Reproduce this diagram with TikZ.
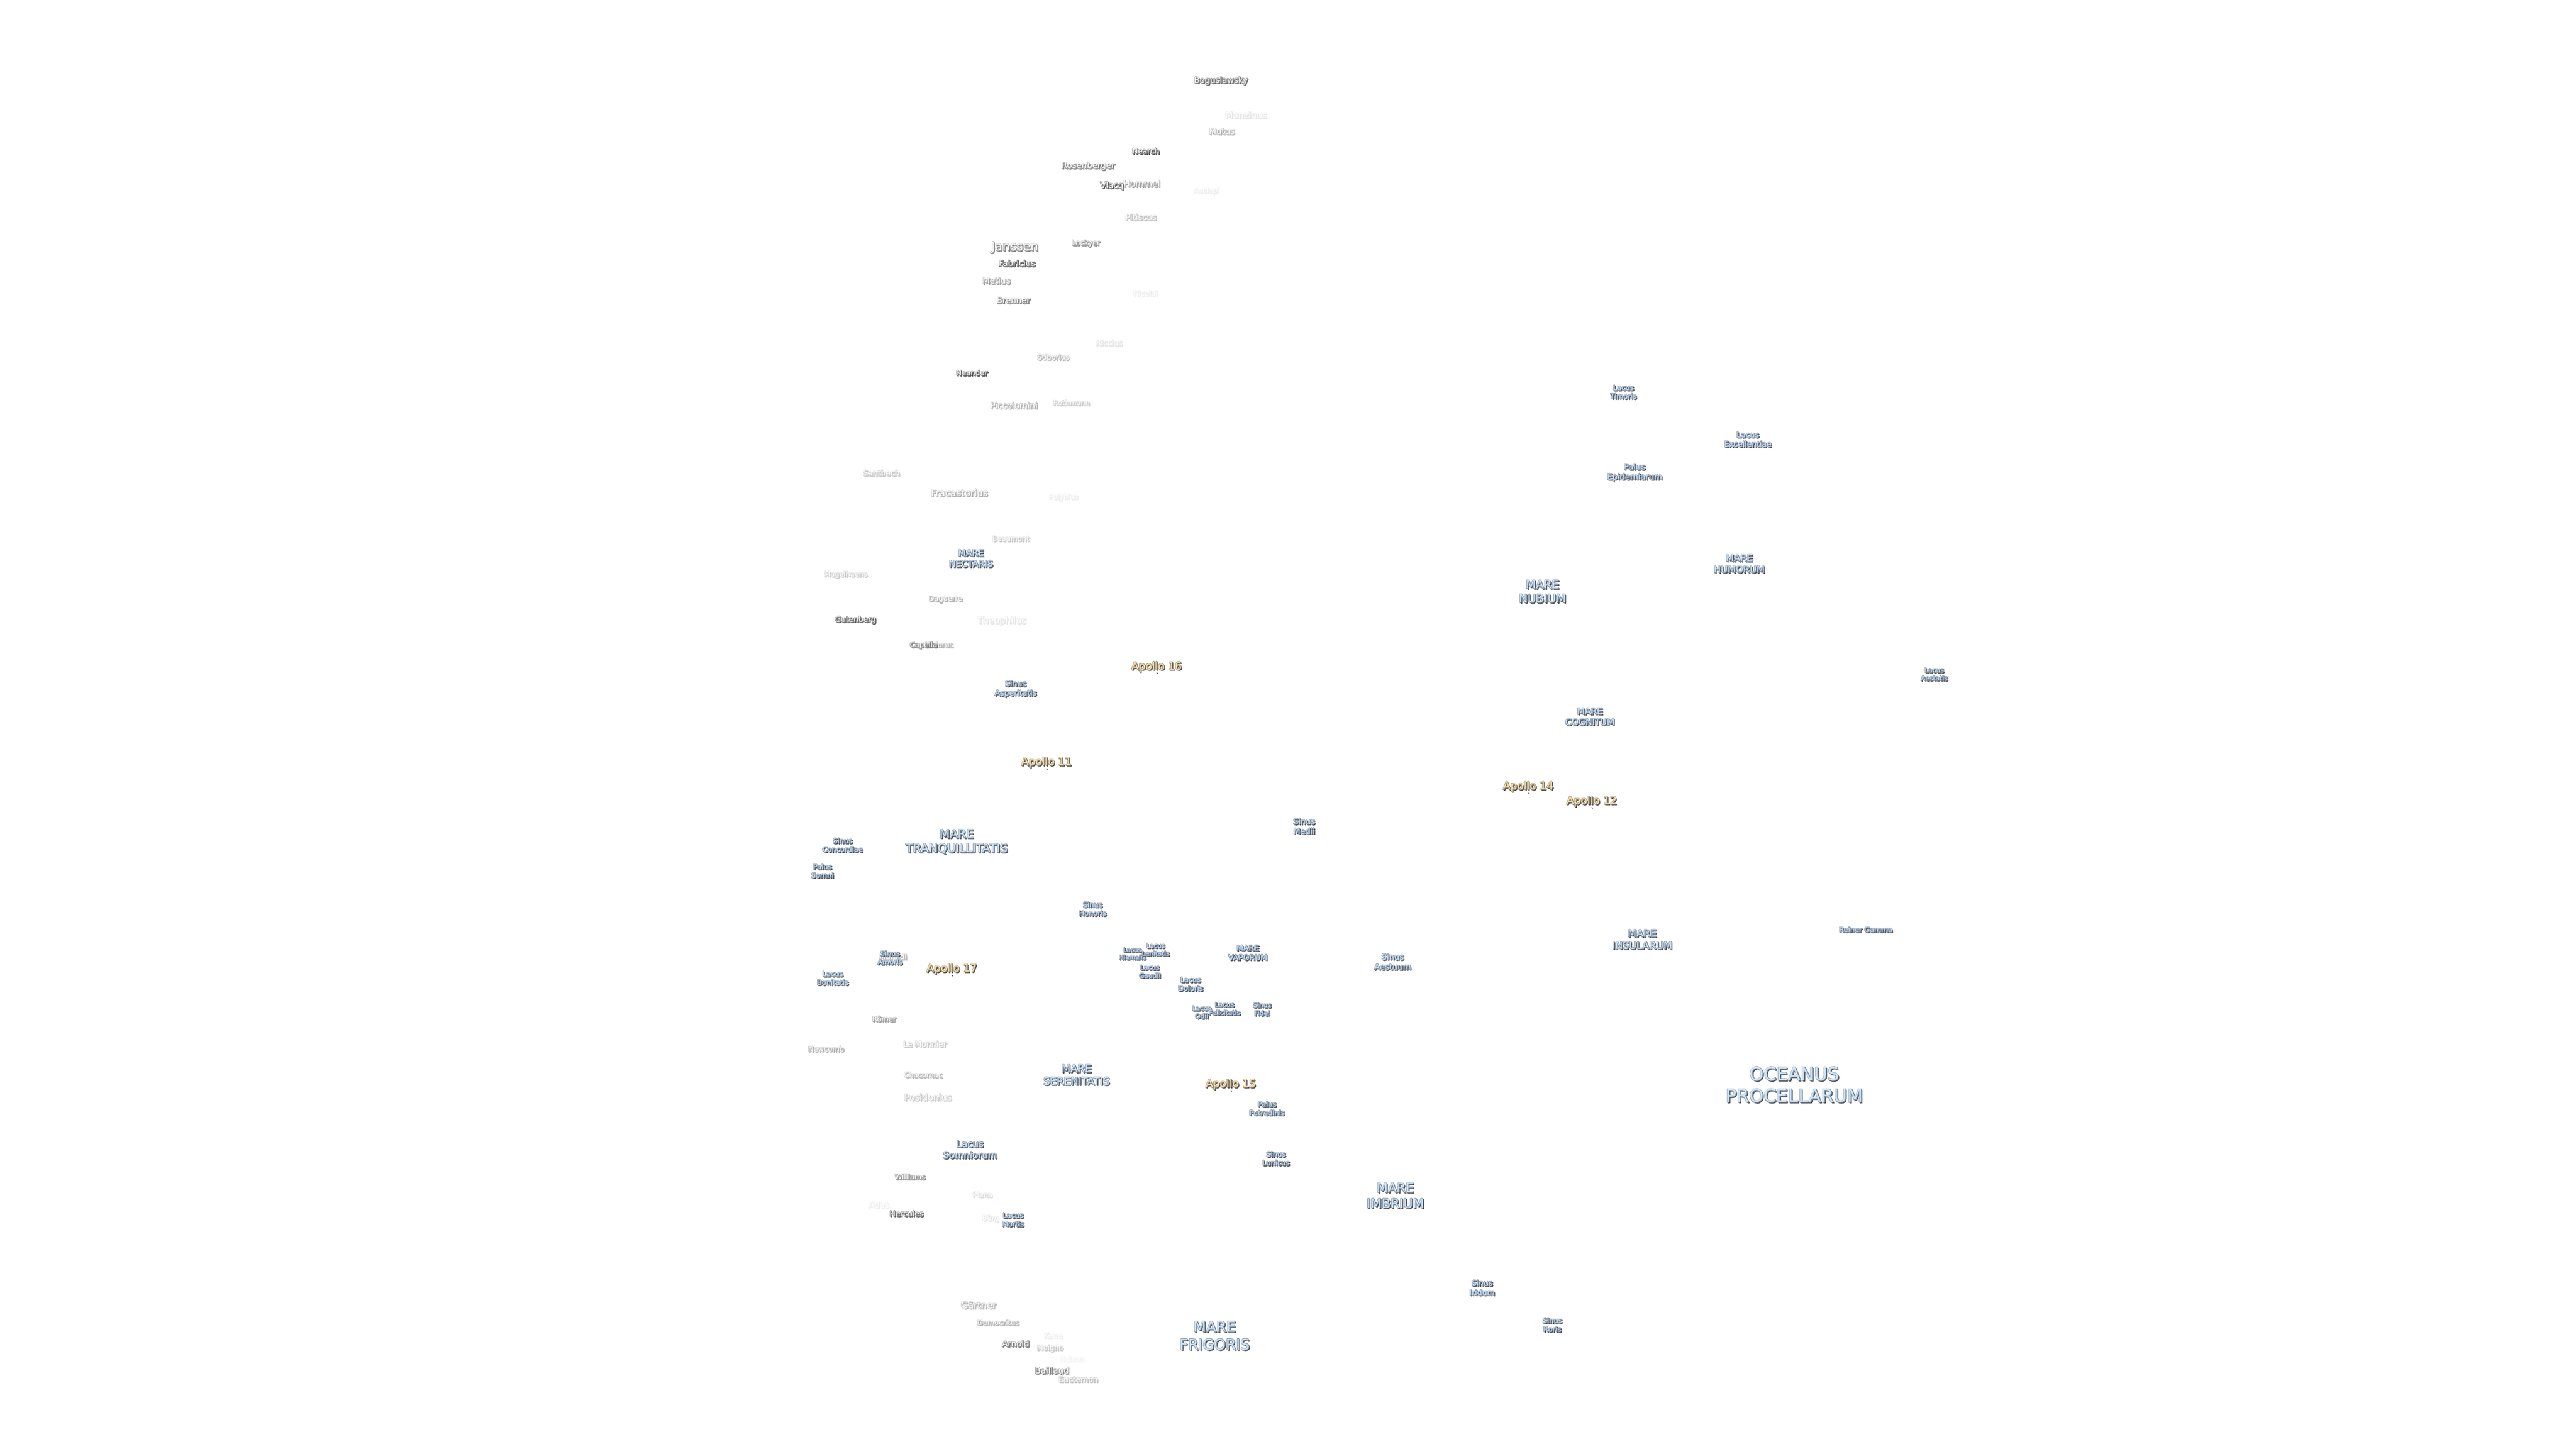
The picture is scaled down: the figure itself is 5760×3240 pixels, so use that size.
\documentclass[tikz,border=0pt]{standalone}
\usepackage{fontspec}
\setmainfont{DejaVu Sans}
\definecolor{shadowdark}{HTML}{45484D}
\definecolor{craterfill}{HTML}{FFFFFF}
\definecolor{marefill}{HTML}{CBE4FC}
\definecolor{apollofill}{HTML}{FFE0A8}
\tikzset{
  lbl/.style={inner sep=0pt,outer sep=0pt,align=center,text depth=0pt},
  apdot/.style={circle,inner sep=0pt,minimum size=3.5pt}
}
\newcommand{\pxf}[1]{\fontsize{#1}{\the\dimexpr #1pt*12/10\relax}\selectfont}
\newcommand{\stroked}[2]{\special{pdf:code 2 Tr #1 w 1 j #2 RG}}
\newcommand{\unstroked}{\special{pdf:code 0 Tr}}
% name, x, y, size, opacity, fill colour, outline rgb, text
\newcommand{\moonlab}[8]{%
  \begin{scope}[transparency group,opacity=#5]
    \node[lbl,font=\pxf{#4},text=shadowdark] (#1-s) at (#2+2,#3+2) {\stroked{1}{0.27 0.28 0.30}#8\unstroked};
    \node[lbl,font=\pxf{#4},text=#6] (#1-h) at (#2,#3) {\stroked{2.4}{#7}#8\unstroked};
    \node[lbl,font=\pxf{#4},text=#6] (#1) at (#2,#3) {#8};
  \end{scope}}
\newcommand{\crater}[6]{\moonlab{#1}{#2}{#3-2.5}{#4}{#5}{craterfill}{0.48 0.48 0.48}{#6}}
\newcommand{\mare}[5]{\moonlab{#1}{#2}{#3-1.5}{#4}{1}{marefill}{0.52 0.57 0.63}{#5}}
\newcommand{\apollo}[4]{%
  \moonlab{#1}{#2}{#3-1.5}{24}{1}{apollofill}{0.60 0.56 0.48}{#4}%
  \node[apdot,fill=shadowdark] (#1-ds) at (#2+1.5,#3+16) {};
  \node[apdot,fill=apollofill] (#1-d) at (#2,#3+14.5) {};}
\begin{document}
\begin{tikzpicture}[x=1pt,y=-1pt]
\useasboundingbox (0,0) rectangle (5760,3240);
\fill[white] (0,0) rectangle (5760,3240);
% far side craters
\crater{boguslawsky}{2730}{181}{18.6}{.8}{Boguslawsky}
\crater{manzinus}{2786}{259}{19.8}{.15}{Manzinus}
\crater{mutus}{2732}{296}{18.7}{.45}{Mutus}
\crater{nearch}{2562}{340}{17}{.95}{Nearch}
\crater{rosenberger}{2433}{372}{18.8}{.75}{Rosenberger}
\crater{hommel}{2553}{413}{19.5}{.55}{Hommel}
\crater{vlacq}{2486}{416}{18.9}{.9}{Vlacq}
\crater{asclepi}{2698}{428}{15.7}{.1}{Asclepi}
\crater{pitiscus}{2551}{488}{18.5}{.35}{Pitiscus}
\crater{lockyer}{2428}{545}{16.3}{.65}{Lockyer}
\crater{janssen}{2269}{553}{27.4}{.7}{Janssen}
\crater{fabricius}{2274}{591}{18.5}{.95}{Fabricius}
\crater{metius}{2228}{630}{18.8}{.55}{Metius}
\crater{nicolai}{2561}{658}{16}{.1}{Nicolai}
\crater{brenner}{2266}{674}{18.7}{.7}{Brenner}
\crater{riccius}{2480}{769}{17}{.15}{Riccius}
\crater{stiborius}{2355}{801}{16.2}{.4}{Stiborius}
\crater{neander}{2173}{836}{16.4}{.95}{Neander}
\crater{rothmann}{2396}{903}{15.8}{.3}{Rothmann}
\crater{piccolomini}{2267}{909}{18.8}{.45}{Piccolomini}
\crater{santbech}{1971}{1060}{17.4}{.3}{Santbech}
\crater{fracastorius}{2145}{1104}{21}{.45}{Fracastorius}
\crater{polybius}{2378}{1113}{15.7}{.1}{Polybius}
\crater{beaumont}{2260}{1207}{16}{.3}{Beaumont}
\crater{magelhaens}{1891}{1286}{16}{.3}{Magelhaens}
\crater{daguerre}{2114}{1341}{16}{.45}{Daguerre}
\crater{gutenberg}{1913}{1387}{17.2}{.9}{Gutenberg}
\crater{theophilus}{2240}{1389}{20}{.15}{Theophilus}
\crater{isidorus}{2100}{1444}{16}{.45}{Isidorus}
\crater{capella}{2065}{1444}{16.4}{.7}{Capella}
\crater{maraldi}{1997}{2142}{16.5}{.4}{Maraldi}
\crater{roemer}{1977}{2281}{16.3}{.55}{Römer}
\crater{lemonnier}{2068}{2337}{17.5}{.3}{Le Monnier}
\crater{newcomb}{1847}{2348}{16.2}{.45}{Newcomb}
\crater{chacornac}{2064}{2406}{16.2}{.4}{Chacornac}
\crater{posidonius}{2075}{2456}{20}{.3}{Posidonius}
\crater{williams}{2035}{2634}{16.2}{.65}{Williams}
\crater{plana}{2197}{2674}{16}{.2}{Plana}
\crater{atlas}{1965}{2696}{19}{.1}{Atlas}
\crater{hercules}{2027}{2716}{17.4}{.85}{Hercules}
\crater{buerg}{2215}{2726}{16}{.15}{Bürg}
\crater{gaertner}{2188}{2921}{20.5}{.4}{Gärtner}
\crater{democritus}{2232}{2960}{16.2}{.45}{Democritus}
\crater{kane}{2355}{2989}{16.3}{.1}{Kane}
\crater{arnold}{2271}{3007}{18.8}{.75}{Arnold}
\crater{moigno}{2348}{3016}{16.2}{.3}{Moigno}
\crater{nelson}{2396}{3041}{15.6}{.07}{Nelson}
\crater{baillaud}{2352}{3067}{19}{.75}{Baillaud}
\crater{euctemon}{2411}{3087}{17.4}{.35}{Euctemon}
% seas, lakes, bays
\mare{nectaris}{2171}{1250}{20}{MARE\\NECTARIS}
\mare{asperitatis}{2271}{1540}{17.5}{Sinus\\Asperitatis}
\mare{tranquillitatis}{2139}{1882}{26.5}{MARE\\TRANQUILLITATIS}
\mare{concordiae}{1884}{1891}{16}{Sinus\\Concordiae}
\mare{somni}{1839}{1949}{16}{Palus\\Somni}
\mare{honoris}{2443}{2034}{16}{Sinus\\Honoris}
\mare{amoris}{1990}{2143}{16}{Sinus\\Amoris}
\mare{bonitatis}{1862}{2189}{16}{Lacus\\Bonitatis}
\mare{hiemalis}{2532}{2134}{14}{Lacus\\Hiemalis}
\mare{lenitatis}{2584}{2125}{14.5}{Lacus\\Lenitatis}
\mare{gaudii}{2571}{2174}{15}{Lacus\\Gaudii}
\mare{doloris}{2662}{2202}{16}{Lacus\\Doloris}
\mare{vaporum}{2790}{2132}{17.5}{MARE\\VAPORUM}
\mare{aestuum}{3114}{2152}{18.5}{Sinus\\Aestuum}
\mare{odii}{2687}{2265}{15}{Lacus\\Odii}
\mare{felicitatis}{2738}{2257}{15}{Lacus\\Felicitatis}
\mare{fidei}{2822}{2258}{15}{Sinus\\Fidei}
\mare{serenitatis}{2407}{2405}{23.5}{MARE\\SERENITATIS}
\mare{putredinis}{2833}{2480}{16}{Palus\\Putredinis}
\mare{somniorum}{2169}{2572}{21}{Lacus\\Somniorum}
\mare{mortis}{2265}{2729}{16}{Lacus\\Mortis}
\mare{lunicus}{2853}{2592}{16}{Sinus\\Lunicus}
\mare{imbrium}{3120}{2675}{29}{MARE\\IMBRIUM}
\mare{iridum}{3314}{2881}{17.5}{Sinus\\Iridum}
\mare{roris}{3471}{2964}{16}{Sinus\\Roris}
\mare{frigoris}{2716}{2988}{33}{MARE\\FRIGORIS}
\mare{timoris}{3630}{878}{16}{Lacus\\Timoris}
\mare{excellentiae}{3908}{984}{17.5}{Lacus\\Excellentiae}
\mare{epidemiarum}{3655}{1056}{18.5}{Palus\\Epidemiarum}
\mare{humorum}{3889}{1262}{21}{MARE\\HUMORUM}
\mare{nubium}{3449}{1324}{26}{MARE\\NUBIUM}
\mare{aestatis}{4325}{1509}{15}{Lacus\\Aestatis}
\mare{cognitum}{3555}{1604}{20}{MARE\\COGNITUM}
\mare{medii}{2916}{1849}{18}{Sinus\\Medii}
\mare{insularum}{3672}{2102}{22.5}{MARE\\INSULARUM}
\mare{reiner}{4172}{2080}{16}{Reiner Gamma}
\mare{procellarum}{4012}{2427}{40.8}{OCEANUS\\PROCELLARUM}
% landing sites
\apollo{apollosixteen}{2586}{1490}{Apollo 16}
\apollo{apolloeleven}{2340}{1704}{Apollo 11}
\apollo{apollofourteen}{3417}{1758}{Apollo 14}
\apollo{apollotwelve}{3559}{1791}{Apollo 12}
\apollo{apolloseventeen}{2128}{2166}{Apollo 17}
\apollo{apollofifteen}{2752}{2424}{Apollo 15}
\end{tikzpicture}
\end{document}
